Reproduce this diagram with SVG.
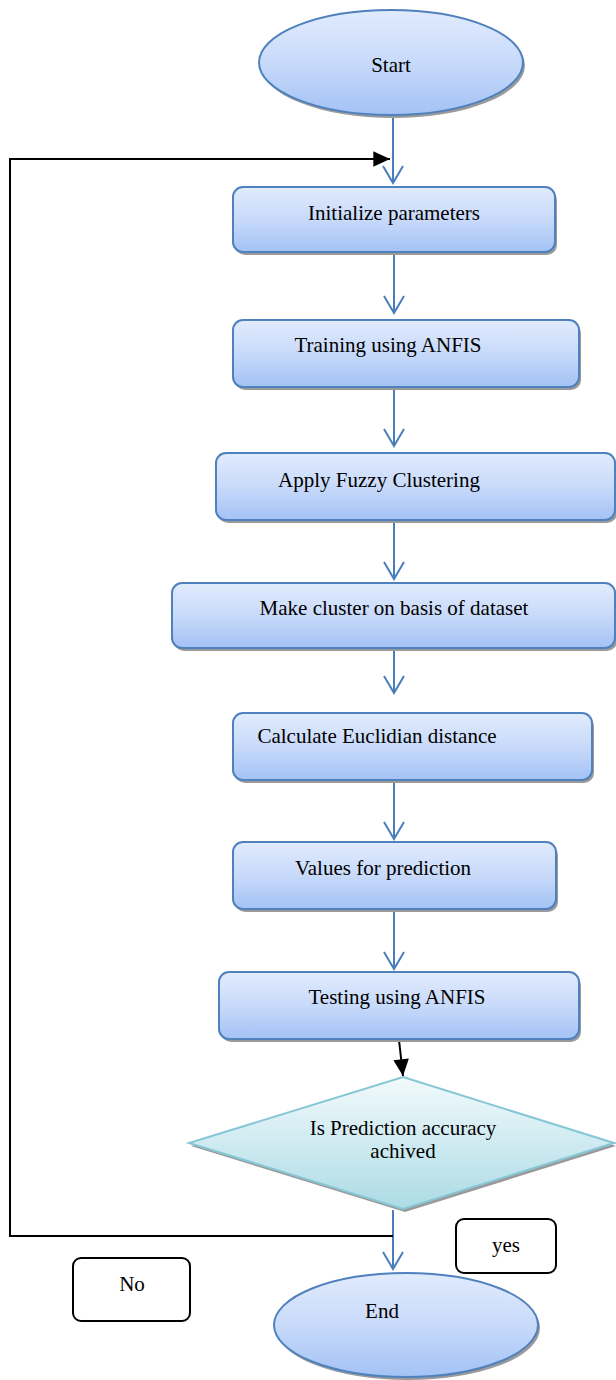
<svg xmlns="http://www.w3.org/2000/svg" width="616" height="1380" viewBox="0 0 616 1380">
<style>
.box{fill:url(#gBlue);stroke:#4f81bd;stroke-width:2}
.shadow{fill:#9a9a9a}
.txt{font-family:"Liberation Serif","Times New Roman",serif;font-size:21px;fill:#000;text-anchor:middle}
.flow{stroke:#4a7ebb;stroke-width:2;fill:none}
.blk{stroke:#000;stroke-width:2;fill:none}
.lbl{fill:#fff;stroke:#000;stroke-width:2}
</style>
<defs>
<linearGradient id="gBlue" x1="0" y1="0" x2="0" y2="1">
<stop offset="0" stop-color="#e1ebfd"/>
<stop offset="0.5" stop-color="#c8dafa"/>
<stop offset="1" stop-color="#a3c2f5"/>
</linearGradient>
<linearGradient id="gCyan" x1="0" y1="0" x2="0" y2="1">
<stop offset="0" stop-color="#f2fafc"/>
<stop offset="1" stop-color="#acdbe5"/>
</linearGradient>
<marker id="openArrow" markerUnits="userSpaceOnUse" markerWidth="20" markerHeight="24" viewBox="-18 -11 20 22" refX="0" refY="0" orient="auto" overflow="visible">
<path d="M-17,-10 L0,0 L-17,10" fill="none" stroke="#4a7ebb" stroke-width="2"/>
</marker>
<marker id="solidArrow" markerUnits="userSpaceOnUse" markerWidth="20" markerHeight="20" viewBox="-16 -8 18 16" refX="0" refY="0" orient="auto" overflow="visible">
<path d="M-15,-7 L0,0 L-15,7 Z" fill="#000"/>
</marker>
</defs>

<g id="connectors">
<line class="flow" x1="393" y1="116" x2="393" y2="183" marker-end="url(#openArrow)"/>
<line class="flow" x1="394" y1="253" x2="394" y2="313" marker-end="url(#openArrow)"/>
<line class="flow" x1="394" y1="388" x2="394" y2="446" marker-end="url(#openArrow)"/>
<line class="flow" x1="394" y1="521" x2="394" y2="579" marker-end="url(#openArrow)"/>
<line class="flow" x1="394" y1="649" x2="394" y2="693" marker-end="url(#openArrow)"/>
<line class="flow" x1="394" y1="781" x2="394" y2="839" marker-end="url(#openArrow)"/>
<line class="flow" x1="394" y1="910" x2="394" y2="969" marker-end="url(#openArrow)"/>
<line class="blk" x1="399" y1="1040" x2="403" y2="1076" marker-end="url(#solidArrow)"/>
<line class="flow" x1="393" y1="1210" x2="393" y2="1269" marker-end="url(#openArrow)"/>
<polyline class="blk" points="393,1236 10,1236 10,159 390,159" marker-end="url(#solidArrow)"/>
</g>

<g id="start">
<ellipse class="shadow" cx="393" cy="65.5" rx="132" ry="52.5"/>
<ellipse class="box" cx="391" cy="62.5" rx="132" ry="52.5"/>
<text class="txt" x="391" y="72">Start</text>
</g>

<g id="init">
<rect class="shadow" x="235" y="190" width="322" height="65" rx="10"/>
<rect class="box" x="233" y="187" width="322" height="65" rx="10"/>
<text class="txt" x="394" y="220">Initialize parameters</text>
</g>

<g id="training">
<rect class="shadow" x="235" y="323" width="346" height="67" rx="10"/>
<rect class="box" x="233" y="320" width="346" height="67" rx="10"/>
<text class="txt" x="388" y="352">Training using ANFIS</text>
</g>

<g id="fuzzy">
<rect class="shadow" x="218" y="456" width="399" height="67" rx="10"/>
<rect class="box" x="216" y="453" width="399" height="67" rx="10"/>
<text class="txt" x="379" y="487">Apply Fuzzy Clustering</text>
</g>

<g id="cluster">
<rect class="shadow" x="174" y="586" width="443" height="65" rx="10"/>
<rect class="box" x="172" y="583" width="443" height="65" rx="10"/>
<text class="txt" x="394" y="615">Make cluster on basis of dataset</text>
</g>

<g id="euclid">
<rect class="shadow" x="235" y="716" width="359" height="67" rx="10"/>
<rect class="box" x="233" y="713" width="359" height="67" rx="10"/>
<text class="txt" x="377" y="743">Calculate Euclidian distance</text>
</g>

<g id="values">
<rect class="shadow" x="235" y="845" width="323" height="67" rx="10"/>
<rect class="box" x="233" y="842" width="323" height="67" rx="10"/>
<text class="txt" x="383" y="875">Values for prediction</text>
</g>

<g id="testing">
<rect class="shadow" x="221" y="975" width="360" height="67" rx="10"/>
<rect class="box" x="219" y="972" width="360" height="67" rx="10"/>
<text class="txt" x="397" y="1004">Testing using ANFIS</text>
</g>

<g id="decision">
<polygon class="shadow" points="405,1080 616,1146 405,1212 191,1146"/>
<polygon points="403,1077 614,1143 403,1209 189,1143" fill="url(#gCyan)" stroke="#86c6d6" stroke-width="2"/>
<text class="txt" x="403" y="1135">Is Prediction accuracy</text>
<text class="txt" x="403" y="1158">achived</text>
</g>

<g id="yes">
<rect class="lbl" x="456" y="1219" width="100" height="54" rx="8"/>
<text class="txt" x="506" y="1252">yes</text>
</g>

<g id="no">
<rect class="lbl" x="73" y="1258" width="117" height="63" rx="8"/>
<text class="txt" x="132" y="1291">No</text>
</g>

<g id="end">
<ellipse class="shadow" cx="408" cy="1328" rx="132" ry="52"/>
<ellipse class="box" cx="406" cy="1325" rx="132" ry="52"/>
<text class="txt" x="382" y="1318">End</text>
</g>
</svg>
